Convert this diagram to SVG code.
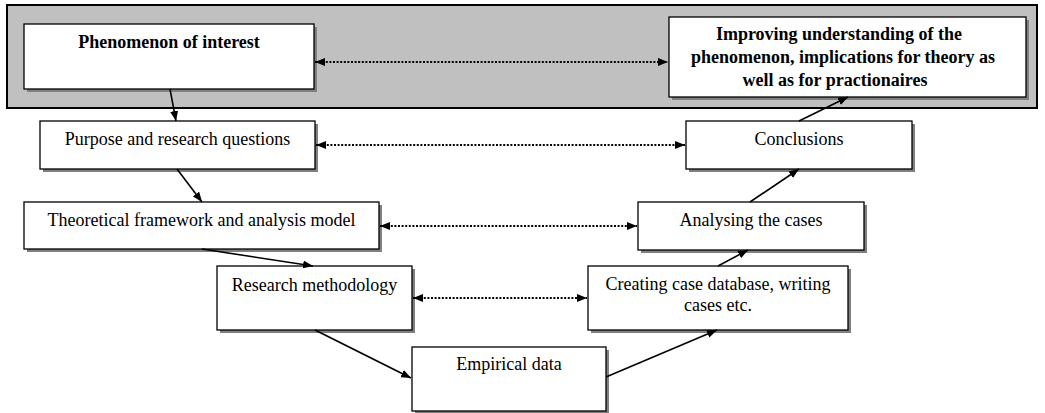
<svg xmlns="http://www.w3.org/2000/svg" width="1045" height="413" viewBox="0 0 1045 413">
  <style>
    .box { fill: #ffffff; stroke: #000000; stroke-width: 1.3; }
    .shadow { fill: #808080; }
    .band { fill: #c0c0c0; stroke: #000000; stroke-width: 2; }
    .label { font-family: "Liberation Serif", "Times New Roman", serif; font-size: 18px; fill: #000000; text-anchor: middle; }
    .bold { font-weight: bold; font-size: 18px; }
    .flow { stroke: #000000; stroke-width: 1.6; fill: none; marker-end: url(#head); }
    .link { stroke: #000000; stroke-width: 2; stroke-dasharray: 2 1.6; fill: none; marker-start: url(#headStart); marker-end: url(#head); }
  </style>
  <defs>
    <marker id="head" viewBox="0 0 10 8" refX="10" refY="4" markerWidth="10" markerHeight="8" markerUnits="userSpaceOnUse" orient="auto">
      <path d="M0,0 L10,4 L0,8 Z" fill="#000000"/>
    </marker>
    <marker id="headStart" viewBox="0 0 10 8" refX="0" refY="4" markerWidth="10" markerHeight="8" markerUnits="userSpaceOnUse" orient="auto">
      <path d="M10,0 L0,4 L10,8 Z" fill="#000000"/>
    </marker>
  </defs>

  <!-- grey band holding the top pair -->
  <rect class="band" x="7" y="5" width="1030" height="103"/>

  <g id="phenomenon">
    <rect class="shadow" x="27" y="27" width="290" height="65"/>
    <rect class="box" x="24" y="24" width="290" height="65"/>
    <text class="label bold" x="169" y="48">Phenomenon of interest</text>
  </g>

  <g id="improving">
    <rect class="shadow" x="672" y="20" width="357" height="80"/>
    <rect class="box" x="669" y="17" width="357" height="80"/>
    <text class="label bold" x="839" y="40">Improving understanding of the</text>
    <text class="label bold" x="843" y="63">phenomenon, implications for theory as</text>
    <text class="label bold" x="835" y="86">well as for practionaires</text>
  </g>

  <g id="purpose">
    <rect class="shadow" x="43" y="124" width="275" height="48"/>
    <rect class="box" x="40" y="121" width="275" height="48"/>
    <text class="label" x="177.5" y="145">Purpose and research questions</text>
  </g>

  <g id="conclusions">
    <rect class="shadow" x="689" y="124" width="226" height="48"/>
    <rect class="box" x="686" y="121" width="226" height="48"/>
    <text class="label" x="799" y="145">Conclusions</text>
  </g>

  <g id="theory">
    <rect class="shadow" x="27" y="205" width="355" height="47"/>
    <rect class="box" x="24" y="202" width="355" height="47"/>
    <text class="label" x="201.5" y="226">Theoretical framework and analysis model</text>
  </g>

  <g id="analysing">
    <rect class="shadow" x="641" y="205" width="226" height="48"/>
    <rect class="box" x="638" y="202" width="226" height="48"/>
    <text class="label" x="751" y="226">Analysing the cases</text>
  </g>

  <g id="methodology">
    <rect class="shadow" x="220" y="269" width="195" height="64"/>
    <rect class="box" x="217" y="266" width="195" height="64"/>
    <text class="label" x="314.5" y="291">Research methodology</text>
  </g>

  <g id="database">
    <rect class="shadow" x="591" y="269" width="260" height="64"/>
    <rect class="box" x="588" y="266" width="260" height="64"/>
    <text class="label" x="718" y="290">Creating case database, writing</text>
    <text class="label" x="718" y="311">cases etc.</text>
  </g>

  <g id="empirical">
    <rect class="shadow" x="415" y="350" width="194" height="64"/>
    <rect class="box" x="412" y="347" width="194" height="64"/>
    <text class="label" x="509" y="370">Empirical data</text>
  </g>

  <g id="connectors">
    <!-- main flow down the left side and back up the right -->
    <line class="flow" x1="170" y1="89" x2="176" y2="121"/>
    <line class="flow" x1="177" y1="169" x2="202" y2="202"/>
    <line class="flow" x1="202" y1="249" x2="313" y2="266"/>
    <line class="flow" x1="315" y1="330" x2="411" y2="378"/>
    <line class="flow" x1="606" y1="377" x2="717" y2="330"/>
    <line class="flow" x1="718" y1="266" x2="748" y2="250"/>
    <line class="flow" x1="750" y1="202" x2="799" y2="169"/>
    <line class="flow" x1="799" y1="121" x2="848" y2="97"/>
    <!-- dotted correspondences between the two sides -->
    <line class="link" x1="315" y1="62" x2="668" y2="62"/>
    <line class="link" x1="316" y1="145" x2="685" y2="145"/>
    <line class="link" x1="380" y1="226" x2="637" y2="226"/>
    <line class="link" x1="413" y1="298" x2="587" y2="298"/>
  </g>
</svg>
